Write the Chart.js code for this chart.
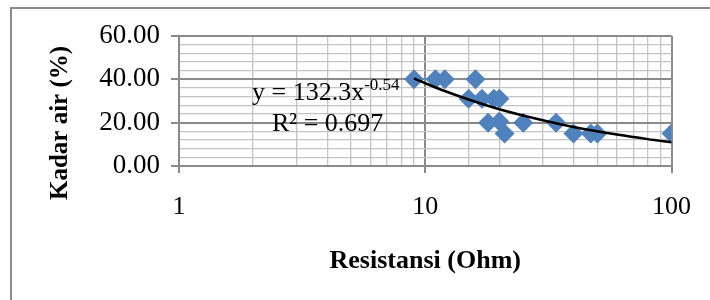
<!DOCTYPE html>
<html><head><meta charset="utf-8">
<script src="https://cdn.jsdelivr.net/npm/chart.js@4.4.0/dist/chart.umd.min.js"></script>
<style>
html,body{margin:0;padding:0;background:#fff;overflow:hidden;width:710px;height:300px;}
#wrap{position:relative;width:710px;height:300px;}
#frame{position:absolute;left:10px;top:7px;width:760px;height:360px;border:2px solid #8c8c8c;box-sizing:border-box;}
canvas{position:absolute;left:0;top:0;}
</style></head><body>
<div id="wrap"><div id="frame"></div><canvas id="c" width="710" height="300"></canvas></div>
<script>
// ---- data ----
const resistance = [9, 11, 12, 16, 15, 17, 19, 20, 18, 20, 21, 25, 34, 40, 47, 50, 100];
const moisture   = [40, 40, 40, 40, 31, 31, 31, 31, 20, 20.5, 15, 20, 20, 15, 15, 15, 15];
const trendX = [9, 10, 12, 15, 20, 30, 40, 60, 80, 100];
const trendY = [40.4, 38.2, 34.6, 30.7, 26.2, 21.1, 18.0, 14.5, 12.4, 11.0];
const xTickLabels = [1, 10, 100];
const yTickLabels = [0, 20, 40, 60];
const trendEquation = 'y = 132.3x';
const trendExponent = '-0.54';
const trendR2 = 'R² = 0.697';
const xTitle = 'Resistansi (Ohm)';
const yTitle = 'Kadar air (%)';

const FONT = "'Liberation Serif', 'Times New Roman', serif";
const MAJOR = '#8a8a8a', MINOR = '#c4c4c4';

const isMajorX = v => { const l = Math.log10(v); return Math.abs(l - Math.round(l)) < 1e-9 && xTickLabels.includes(Math.round(v)); };
const isMajorY = v => yTickLabels.includes(v);

const textPlugin = {
  id: 'texts',
  afterDraw(chart) {
    const ctx = chart.ctx;
    ctx.save();
    ctx.fillStyle = '#000';
    ctx.textBaseline = 'alphabetic';
    ctx.textAlign = 'left';
    ctx.font = "26px " + FONT;
    ctx.fillText(trendEquation, 252, 100);
    const w = ctx.measureText(trendEquation).width;
    ctx.font = "17px " + FONT;
    ctx.fillText(trendExponent, 252 + w, 90);
    ctx.font = "26px " + FONT;
    ctx.fillText(trendR2, 272, 131);
    ctx.translate(61, 123);
    ctx.rotate(-Math.PI / 2);
    ctx.textAlign = 'center';
    ctx.textBaseline = 'middle';
    ctx.font = "bold 25px " + FONT;
    ctx.fillText(yTitle, 0, 0);
    ctx.restore();
  }
};

new Chart(document.getElementById('c'), {
  type: 'scatter',
  data: {
    datasets: [
      {
        type: 'line',
        data: trendX.map((x, i) => ({x, y: trendY[i]})),
        borderColor: '#000', borderWidth: 2.5, pointRadius: 0,
        cubicInterpolationMode: 'monotone', fill: false, order: 0
      },
      {
        data: resistance.map((x, i) => ({x, y: moisture[i]})),
        pointStyle: 'rectRot', pointRadius: 10, pointHoverRadius: 10,
        backgroundColor: '#4f81bd', borderColor: '#4f81bd', borderWidth: 0, order: 1
      }
    ]
  },
  options: {
    responsive: false, animation: false,
    layout: { padding: { left: 0, top: 36, right: 37, bottom: 0 } },
    plugins: { legend: { display: false }, tooltip: { enabled: false } },
    scales: {
      x: {
        type: 'logarithmic', min: 1, max: 100,
        afterFit: s => { s.height = 134; },
        border: { color: MAJOR, width: 2 },
        grid: {
          color: c => isMajorX(c.tick.value) ? MAJOR : MINOR,
          lineWidth: c => isMajorX(c.tick.value) ? 2 : 1.3,
          tickColor: c => isMajorX(c.tick.value) ? MAJOR : 'rgba(0,0,0,0)',
          tickLength: 7, tickWidth: 2
        },
        ticks: {
          autoSkip: false, maxRotation: 0, padding: 19, color: '#000',
          font: { family: FONT, size: 26 },
          callback: v => isMajorX(v) ? String(Math.round(v)) : ''
        },
        title: { display: true, text: xTitle, color: '#000', font: { family: FONT, size: 26, weight: 'bold' }, padding: { top: 0, bottom: 23 } }
      },
      y: {
        min: 0, max: 60,
        afterFit: s => { s.width = 179; },
        border: { color: MAJOR, width: 2 },
        grid: {
          color: c => isMajorY(c.tick.value) ? MAJOR : MINOR,
          lineWidth: c => isMajorY(c.tick.value) ? 2 : 1.3,
          tickColor: c => isMajorY(c.tick.value) ? MAJOR : 'rgba(0,0,0,0)',
          tickLength: 8, tickWidth: 2
        },
        ticks: {
          stepSize: 4, autoSkip: false, padding: 11, color: '#000',
          font: { family: FONT, size: 27 },
          callback: v => isMajorY(v) ? v.toFixed(2) : ''
        }
      }
    }
  },
  plugins: [textPlugin]
});
</script>
</body></html>
